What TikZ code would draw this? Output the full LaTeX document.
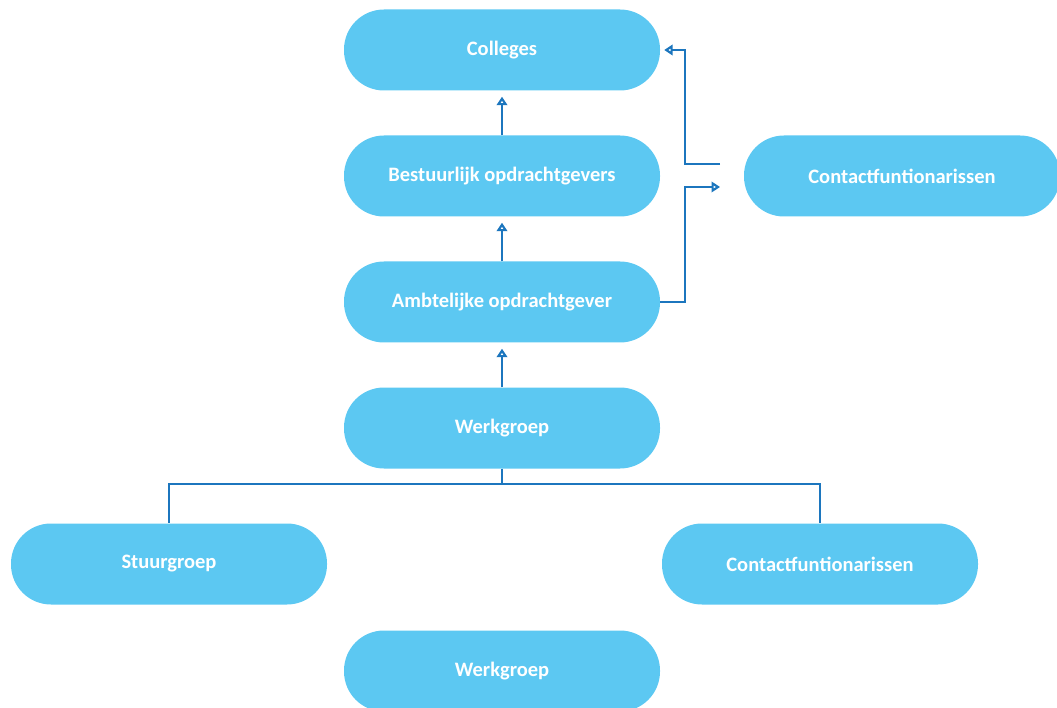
\documentclass[tikz,border=0pt]{standalone}
\usepackage{fontspec}
\setmainfont{Carlito}
\usetikzlibrary{arrows.meta}

\definecolor{boxblue}{HTML}{5CC8F2}
\definecolor{lineblue}{HTML}{1C76BE}

\tikzset{
  box/.style={rounded corners=40pt, fill=boxblue, text=white,
    font=\fontsize{20.5}{24}\selectfont\bfseries,
    minimum width=316pt, minimum height=81pt, inner sep=0pt},
  link/.style={draw=lineblue, line width=2.4pt},
  tip/.style={link, -{Triangle[open, length=8.5pt, width=10.5pt, line width=2.2pt]}}
}

\begin{document}
\begin{tikzpicture}[x=1pt, y=-1pt]
    \useasboundingbox (0,0) rectangle (1057,708);

    % main column
    \node[box] (colleges) at (502,50) {Colleges};
    \node[box] (bestuur) at (502,176) {Bestuurlijk opdrachtgevers};
    \node[box] (ambtelijk) at (502,302) {Ambtelijke opdrachtgever};
    \node[box] (werkgroep) at (502,428) {Werkgroep};

    % side boxes
    \node[box] (contact) at (902,176) {Contactfuntionarissen};
    \node[box] (stuurgroep) at (169,564) {Stuurgroep};
    \node[box] (contactlow) at (820,564) {Contactfuntionarissen};
    \node[box] (werkgroeplow) at (502,671) {Werkgroep};

    \draw[tip, shorten >=6pt] (werkgroep) -- (ambtelijk);
    \draw[tip, shorten >=6pt] (ambtelijk) -- (bestuur);
    \draw[tip, shorten >=6pt] (bestuur) -- (colleges);

    % to and from the contact people
    \coordinate (c-in) at (720,187);
    \coordinate (c-out) at (720,164);
    \draw[tip] (ambtelijk.east) -- (685,302) |- (c-in);
    \draw[tip, shorten >=4pt] (c-out) -- (685,164) |- (colleges.east);

    % tree below the werkgroep
    \coordinate (split) at (502,484);
    \draw[link] (werkgroep.south) -- (split) -| (stuurgroep.north);
    \draw[link] (split) -| (contactlow.north);
\end{tikzpicture}
\end{document}
